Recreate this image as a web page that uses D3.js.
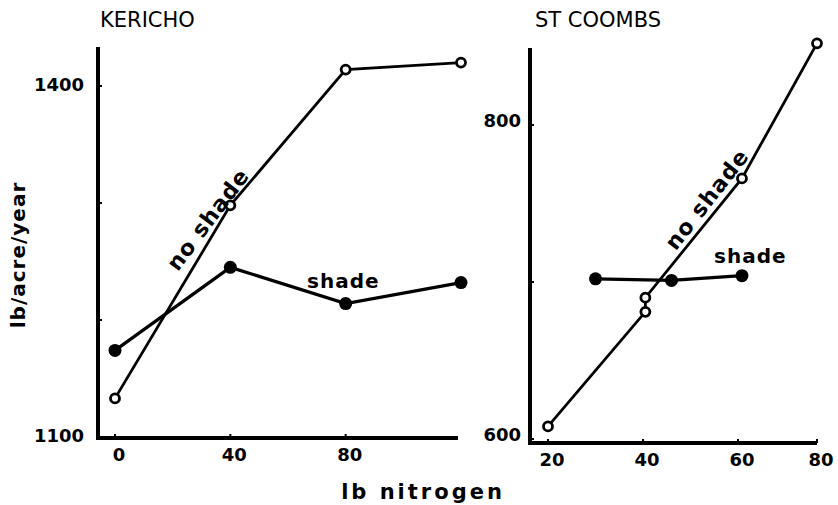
<!DOCTYPE html>
<html>
<head>
<meta charset="utf-8">
<script src="https://cdn.jsdelivr.net/npm/d3@7"></script>
<style>
  body { margin: 0; background: #fff; }
  text { font-family: "DejaVu Sans", sans-serif; font-weight: bold; fill: #000; }
</style>
</head>
<body>
<div id="chart"></div>
<script>
// Kericho panel
const kerichoN = [0, 40, 80, 120];
const kerichoNoShade = [1133, 1298, 1414, 1420];
const kerichoShade = [1174, 1245, 1214, 1232];
const kerichoXTicks = [0, 40, 80];
const kerichoYTicks = [1100, 1200, 1300, 1400];
const kerichoYLabels = [1100, 1400];

// St Coombs panel
const coombsNoShadeN = [20, 40.5, 40.5, 61, 80];
const coombsNoShade = [608, 681, 690, 766, 852];
const coombsShadeN = [30, 46, 61];
const coombsShade = [702, 701, 704];
const coombsXTicks = [20, 40, 60, 80];
const coombsYTicks = [600, 700, 800];
const coombsYLabels = [600, 800];

const width = 838, height = 505;
const svg = d3.select('#chart')
    .append('svg')
    .attr('width', width)
    .attr('height', height);

const line = d3.line().x(d => d.x).y(d => d.y);

function panel(opts) {
    const g = svg.append('g');
    const x = opts.x, y = opts.y;

    // axes drawn as thick lines like the original
    g.append('line')
        .attr('x1', opts.axisX).attr('x2', opts.axisX)
        .attr('y1', opts.axisTop).attr('y2', opts.axisY + 2)
        .attr('stroke', '#000').attr('stroke-width', 4);
    g.append('line')
        .attr('x1', opts.axisX - 2).attr('x2', opts.axisRight)
        .attr('y1', opts.axisY).attr('y2', opts.axisY)
        .attr('stroke', '#000').attr('stroke-width', 4);

    // small tick marks
    g.selectAll('.yt').data(opts.yTicks).enter().append('line')
        .attr('x1', opts.axisX).attr('x2', opts.axisX + 4)
        .attr('y1', d => y(d)).attr('y2', d => y(d))
        .attr('stroke', '#000').attr('stroke-width', 2);
    g.selectAll('.xt').data(opts.xTicks).enter().append('line')
        .attr('x1', d => x(d)).attr('x2', d => x(d))
        .attr('y1', opts.axisY).attr('y2', opts.axisY - 4)
        .attr('stroke', '#000').attr('stroke-width', 2);

    // tick labels
    g.selectAll('.yl').data(opts.yLabels).enter().append('text')
        .attr('x', opts.axisX - opts.yLabelGap)
        .attr('y', d => y(d) + opts.yLabelShift)
        .attr('text-anchor', 'end')
        .style('font-size', '18px')
        .text(d => d);
    g.selectAll('.xl').data(opts.xTicks).enter().append('text')
        .attr('x', d => x(d) + 4)
        .attr('y', opts.axisY + 23)
        .attr('text-anchor', 'middle')
        .style('font-size', '18px')
        .text(d => d);

    // title
    g.append('text')
        .attr('x', opts.titleX).attr('y', 27)
        .style('font-size', '21px')
        .style('font-weight', 'normal')
        .text(opts.title);

    // no shade series
    const ns = opts.nsN.map((n, i) => ({ x: x(n), y: y(opts.ns[i]) }));
    const sh = opts.shN.map((n, i) => ({ x: x(n), y: y(opts.sh[i]) }));

    g.append('path').datum(ns)
        .attr('d', line).attr('fill', 'none')
        .attr('stroke', '#000').attr('stroke-width', 2.8);
    g.append('path').datum(sh)
        .attr('d', line).attr('fill', 'none')
        .attr('stroke', '#000').attr('stroke-width', 3.2);

    g.selectAll('.ns').data(ns).enter().append('circle')
        .attr('cx', d => d.x).attr('cy', d => d.y).attr('r', 4.5)
        .attr('fill', '#fff').attr('stroke', '#000').attr('stroke-width', 2.8);
    g.selectAll('.sh').data(sh).enter().append('circle')
        .attr('cx', d => d.x).attr('cy', d => d.y).attr('r', 6.5)
        .attr('fill', '#000');

    // series labels
    g.append('text')
        .attr('transform', `translate(${opts.nsLabel[0]},${opts.nsLabel[1]}) rotate(${opts.nsLabel[2]})`)
        .attr('text-anchor', 'middle')
        .style('font-size', '22px')
        .style('letter-spacing', '1px')
        .text('no shade');
    g.append('text')
        .attr('x', opts.shLabel[0]).attr('y', opts.shLabel[1])
        .style('font-size', '20px')
        .style('letter-spacing', '1px')
        .text('shade');
}

panel({
    title: 'KERICHO', titleX: 100,
    x: d3.scaleLinear().domain([0, 120]).range([115, 461]),
    y: d3.scaleLinear().domain([1100, 1400]).range([437, 86]),
    axisX: 98, axisTop: 47, axisY: 438, axisRight: 458,
    xTicks: kerichoXTicks, yTicks: kerichoYTicks, yLabels: kerichoYLabels,
    yLabelShift: 5, yLabelGap: 14,
    nsN: kerichoN, ns: kerichoNoShade,
    shN: kerichoN, sh: kerichoShade,
    nsLabel: [214, 224, -53],
    shLabel: [307, 288]
});

panel({
    title: 'ST COOMBS', titleX: 535,
    x: d3.scaleLinear().domain([20, 60, 80]).range([548, 738, 817]),
    y: d3.scaleLinear().domain([600, 800]).range([439, 125]),
    axisX: 530, axisTop: 48, axisY: 443, axisRight: 817,
    xTicks: coombsXTicks, yTicks: coombsYTicks, yLabels: coombsYLabels,
    yLabelShift: 2, yLabelGap: 9,
    nsN: coombsNoShadeN, ns: coombsNoShade,
    shN: coombsShadeN, sh: coombsShade,
    nsLabel: [713, 204, -52],
    shLabel: [714, 263]
});

// shared axis titles
svg.append('text')
    .attr('transform', 'translate(25,255) rotate(-90)')
    .attr('text-anchor', 'middle')
    .style('font-size', '20px')
    .style('letter-spacing', '1px')
    .text('lb/acre/year');
svg.append('text')
    .attr('x', 423).attr('y', 499)
    .attr('text-anchor', 'middle')
    .style('font-size', '21px')
    .style('letter-spacing', '3px')
    .text('lb nitrogen');
</script>
</body>
</html>
